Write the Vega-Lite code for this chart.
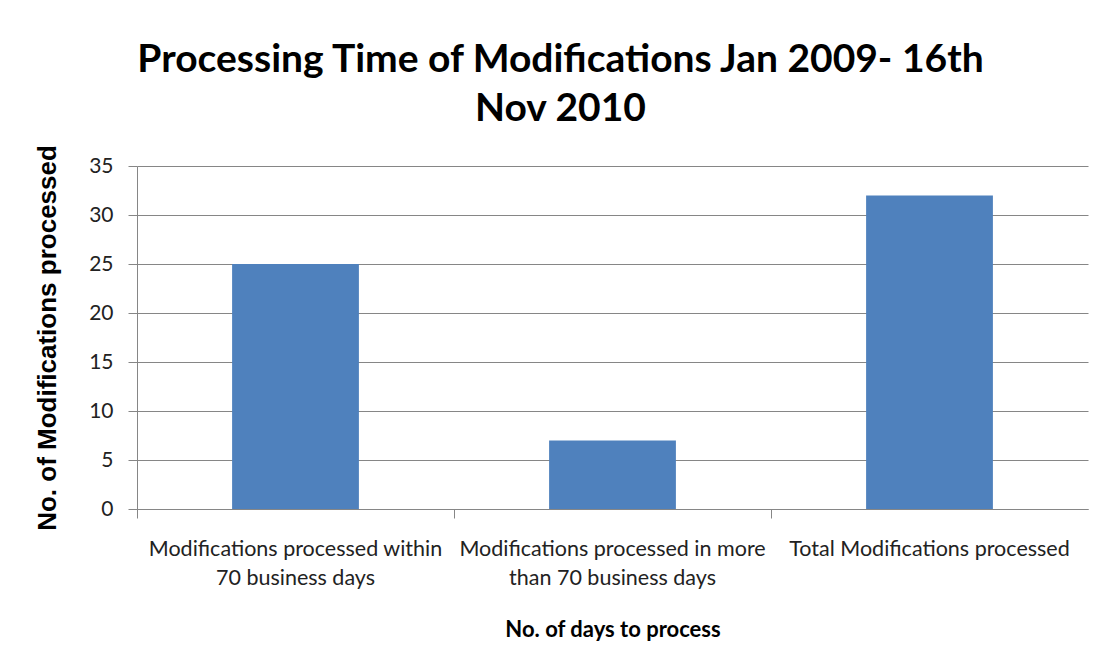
{
  "$schema": "https://vega.github.io/schema/vega-lite/v6.json",
  "width": 951,
  "height": 343,
  "autosize": {"type": "none"},
  "padding": {"left": 137, "top": 166, "right": 15, "bottom": 151},
  "background": "white",
  "title": {
    "text": ["Processing Time of Modifications Jan 2009- 16th", "Nov 2010"],
    "font": "Lato",
    "fontSize": 39,
    "fontWeight": "bold",
    "color": "#000000",
    "lineHeight": 49,
    "anchor": "middle",
    "dx": -52,
    "offset": 16
  },
  "data": {
    "values": [
      {"category": "Modifications processed within 70 business days", "count": 25},
      {"category": "Modifications processed in more than 70 business days", "count": 7},
      {"category": "Total Modifications processed", "count": 32}
    ]
  },
  "mark": {"type": "bar", "color": "#4F81BD", "width": {"band": 0.4}},
  "encoding": {
    "x": {
      "field": "category",
      "type": "nominal",
      "sort": null,
      "scale": {"paddingInner": 0, "paddingOuter": 0},
      "axis": {
        "title": "No. of days to process",
        "titleFont": "Lato",
        "titleFontSize": 22,
        "titleFontWeight": "bold",
        "titleColor": "#000000",
        "titlePadding": 31,
        "labelAngle": 0,
        "labelFont": "Lato",
        "labelFontSize": 21.5,
        "labelColor": "#222222",
        "labelPadding": 20,
        "labelLineHeight": 29,
        "labelLimit": 0,
        "labelExpr": "datum.value == 'Modifications processed within 70 business days' ? ['Modifications processed  within', '70 business days'] : datum.value == 'Modifications processed in more than 70 business days' ? ['Modifications processed  in more', 'than 70 business days'] : datum.value",
        "bandPosition": 0,
        "ticks": true,
        "tickSize": 9,
        "tickColor": "#868686",
        "domainColor": "#868686",
        "grid": false
      }
    },
    "y": {
      "field": "count",
      "type": "quantitative",
      "scale": {"domain": [0, 35], "nice": false},
      "axis": {
        "values": [0, 5, 10, 15, 20, 25, 30, 35],
        "title": "No. of Modifications processed",
        "titleFont": "Liberation Sans",
        "titleFontSize": 26,
        "titleFontWeight": "bold",
        "titleColor": "#000000",
        "titlePadding": 28,
        "labelFont": "Lato",
        "labelFontSize": 21,
        "labelColor": "#222222",
        "labelPadding": 15,
        "tickSize": 9,
        "tickColor": "#868686",
        "domainColor": "#868686",
        "gridColor": "#868686",
        "grid": true
      }
    }
  },
  "config": {
    "view": {"stroke": null},
    "axis": {"domainWidth": 1, "tickWidth": 1, "gridWidth": 1}
  }
}
